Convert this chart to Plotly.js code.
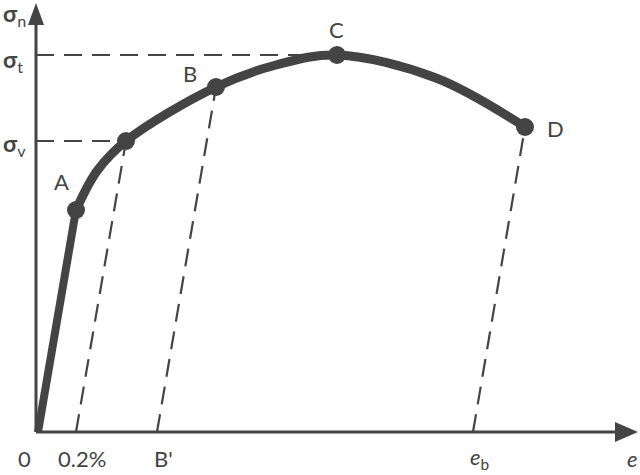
<!DOCTYPE html>
<html><head><meta charset="utf-8">
<script src="https://cdn.plot.ly/plotly-3.0.1.min.js"></script>
<style>html,body{margin:0;padding:0;background:#fff}#c{width:640px;height:475px}</style>
</head><body><div id="c"></div>
<script>
// strain (e) / stress (sigma) in arbitrary diagram units
const elasticStrain = [2, 40];
const elasticStress = [0, 222];
const plasticStrain = [40, 61, 90, 180, 240, 301, 400, 489];
const plasticStress = [222, 261, 291, 345, 367, 377, 354, 305];
const pointNames = ['A', 'B', 'C', 'D'];
const pointStrain = [40, 180, 301, 489];
const pointStress = [222, 345, 377, 305];
const yieldStrain = 90, yieldStress = 291;
const unloadStart = [40, 121, 437];      // 0.2%, B', e_b
const unloadEndStrain = [90, 180, 489];
const unloadEndStress = [291, 345, 305];
const xTickVals = [-12, 46, 127, 443, 596];
const xTickText = ['0', '0.2%', "B'", '<i>e</i><sub>b</sub>', '<i>e</i>'];
const yLabelVals = [418, 372, 288];
const yLabelText = ['<b>σ</b><sub>n</sub>', '<b>σ</b><sub>t</sub>', '<b>σ</b><sub>v</sub>'];
const xAxisLen = 602, yAxisLen = 429;

const col = '#444444';
const traces = [];
// axes
traces.push({x:[0, xAxisLen-20], y:[0,0], mode:'lines', line:{color:col, width:3}, hoverinfo:'skip'});
traces.push({x:[0,0], y:[0, yAxisLen-20], mode:'lines', line:{color:col, width:3}, hoverinfo:'skip'});
traces.push({x:[xAxisLen-23, xAxisLen, xAxisLen-23, xAxisLen-23], y:[-10,0,10,-10], mode:'lines', fill:'toself', fillcolor:col, line:{width:0}, hoverinfo:'skip'});
traces.push({x:[-8,0,8,-8], y:[yAxisLen-22, yAxisLen, yAxisLen-22, yAxisLen-22], mode:'lines', fill:'toself', fillcolor:col, line:{width:0}, hoverinfo:'skip'});
// dashed guides
const dash = {color:col, width:2.2, dash:'18px,10px'};
traces.push({x:[0, pointStrain[2]], y:[pointStress[2], pointStress[2]], mode:'lines', line:dash, hoverinfo:'skip'});
traces.push({x:[0, yieldStrain], y:[yieldStress, yieldStress], mode:'lines', line:dash, hoverinfo:'skip'});
for (let i=0;i<unloadStart.length;i++){
  traces.push({x:[unloadStart[i], unloadEndStrain[i]], y:[0, unloadEndStress[i]], mode:'lines', line:dash, hoverinfo:'skip'});
}
// curve
traces.push({x:elasticStrain, y:elasticStress, mode:'lines', line:{color:col, width:8}, hoverinfo:'skip'});
traces.push({x:plasticStrain, y:plasticStress, mode:'lines', line:{color:col, width:9, shape:'spline', smoothing:1}, hoverinfo:'skip'});
traces.push({x:pointStrain.concat([yieldStrain]), y:pointStress.concat([yieldStress]), mode:'markers', marker:{color:col, size:18}, hoverinfo:'skip'});

const font = {family:'Lato, "Open Sans", sans-serif', size:22, color:col};
const ann = [];
const labelOffsets = [[-15,29],[-26,14],[-1,26],[30,-1]];
for (let i=0;i<pointNames.length;i++){
  ann.push({x:pointStrain[i]+labelOffsets[i][0], y:pointStress[i]+labelOffsets[i][1], text:pointNames[i], showarrow:false, font:font, xanchor:'center', yanchor:'middle'});
}
for (let i=0;i<xTickVals.length;i++){
  ann.push({x:xTickVals[i], y:-26, text:xTickText[i], showarrow:false, font:font, xanchor:'center', yanchor:'middle'});
}
for (let i=0;i<yLabelVals.length;i++){
  ann.push({x:-35, y:yLabelVals[i], text:yLabelText[i], showarrow:false, font:{family:font.family, size:23, color:col}, xanchor:'left', yanchor:'middle'});
}

const layout = {
  width:640, height:475, margin:{l:0,r:0,t:0,b:0},
  paper_bgcolor:'#fff', plot_bgcolor:'#fff', showlegend:false,
  xaxis:{range:[-36,604], visible:false, fixedrange:true},
  yaxis:{range:[-43,432], visible:false, fixedrange:true},
  annotations:ann
};
Plotly.newPlot('c', traces, layout, {staticPlot:true});
</script></body></html>
